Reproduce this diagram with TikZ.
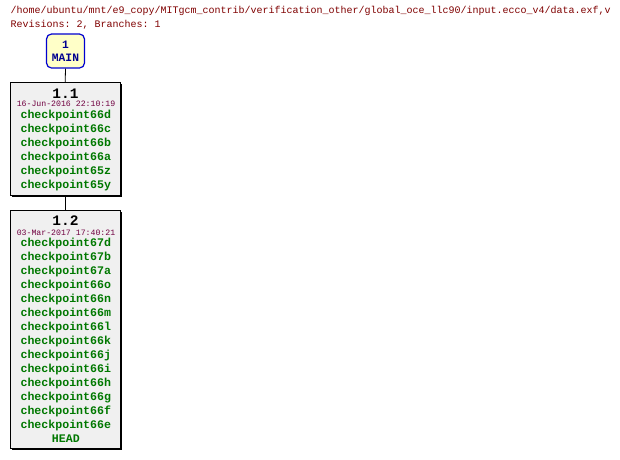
\documentclass[tikz,border=0pt]{standalone}
\usepackage{fontspec}
\setmonofont{Liberation Mono}
\definecolor{titlered}{HTML}{800000}
\definecolor{datecol}{HTML}{700040}
\definecolor{tagcol}{HTML}{007800}
\definecolor{mainfill}{HTML}{FFFFC8}
\definecolor{mainedge}{HTML}{0000D0}
\definecolor{maintext}{HTML}{000090}
\definecolor{boxfill}{HTML}{F0F0F0}
\tikzset{
  hdr/.style={anchor=west, inner sep=0pt, text=titlered, font=\ttfamily\fontsize{10}{12}\selectfont},
  revbox/.style={draw=black, line width=0.8pt, fill=boxfill, minimum width=110pt, inner sep=0pt},
  shadowbox/.style={fill=black, minimum width=110pt, inner sep=0pt},
  mainbox/.style={draw=mainedge, line width=1.2pt, fill=mainfill, rounded corners=5pt, minimum width=38pt, minimum height=34pt, inner sep=0pt},
  maintxt/.style={inner sep=0pt, text=maintext, font=\ttfamily\bfseries\fontsize{11.3}{12}\selectfont},
  revnum/.style={inner sep=0pt, text=black, font=\ttfamily\bfseries\fontsize{14.5}{15}\selectfont},
  datetxt/.style={inner sep=0pt, text=datecol, font=\ttfamily\fontsize{8.2}{9}\selectfont},
  tagtxt/.style={inner sep=0pt, text=tagcol, font=\ttfamily\bfseries\fontsize{11.6}{12}\selectfont},
  link/.style={draw=black, line width=0.8pt}
}
\begin{document}
\begin{tikzpicture}[x=1pt,y=-1pt]
\useasboundingbox[fill=white] (0,0) rectangle (620,459);
\node[hdr] (title) at (10.5,11) {/home/ubuntu/mnt/e9\_copy/MITgcm\_contrib/verification\_other/global\_oce\_llc90/input.ecco\_v4/data.exf,v};
\node[hdr] (revs) at (10.5,25) {Revisions: 2, Branches: 1};
% MAIN
\node[mainbox] (main) at (65.5,51) {};
\node[maintxt] (mainnum) at (65.5,44.5) {1};
\node[maintxt] (mainname) at (65.5,58) {MAIN};
% box 1.1
\node[shadowbox, minimum height=112.5pt] (sh1) at (67,140.5) {};
\node[revbox, minimum height=112.5pt] (r1) at (65.2,138.8) {};
\node[revnum] (r1num) at (65.5,93.3) {1.1};
\node[datetxt] (r1date) at (66,104) {16-Jun-2016 22:10:19};
\foreach \t [count=\i from 0] in {checkpoint66d,checkpoint66c,checkpoint66b,checkpoint66a,checkpoint65z,checkpoint65y}
  \node[tagtxt] (r1t\i) at (65.8,115.2+14*\i) {\t};
% box 1.2
\node[shadowbox, minimum height=238pt] (sh2) at (67,330.8) {};
\node[revbox, minimum height=238pt] (r2) at (65.2,329.1) {};
\node[revnum] (r2num) at (65.5,221) {1.2};
\node[datetxt] (r2date) at (66,232.3) {03-Mar-2017 17:40:21};
\foreach \t [count=\i from 0] in {checkpoint67d,checkpoint67b,checkpoint67a,checkpoint66o,checkpoint66n,checkpoint66m,checkpoint66l,checkpoint66k,checkpoint66j,checkpoint66i,checkpoint66h,checkpoint66g,checkpoint66f,checkpoint66e,HEAD}
  \node[tagtxt] (r2t\i) at (65.8,243.3+13.98*\i) {\t};
% links
\draw[link] (main.south) -- (r1.north);
\draw[link] (r1.south) -- (r2.north);
\end{tikzpicture}
\end{document}
